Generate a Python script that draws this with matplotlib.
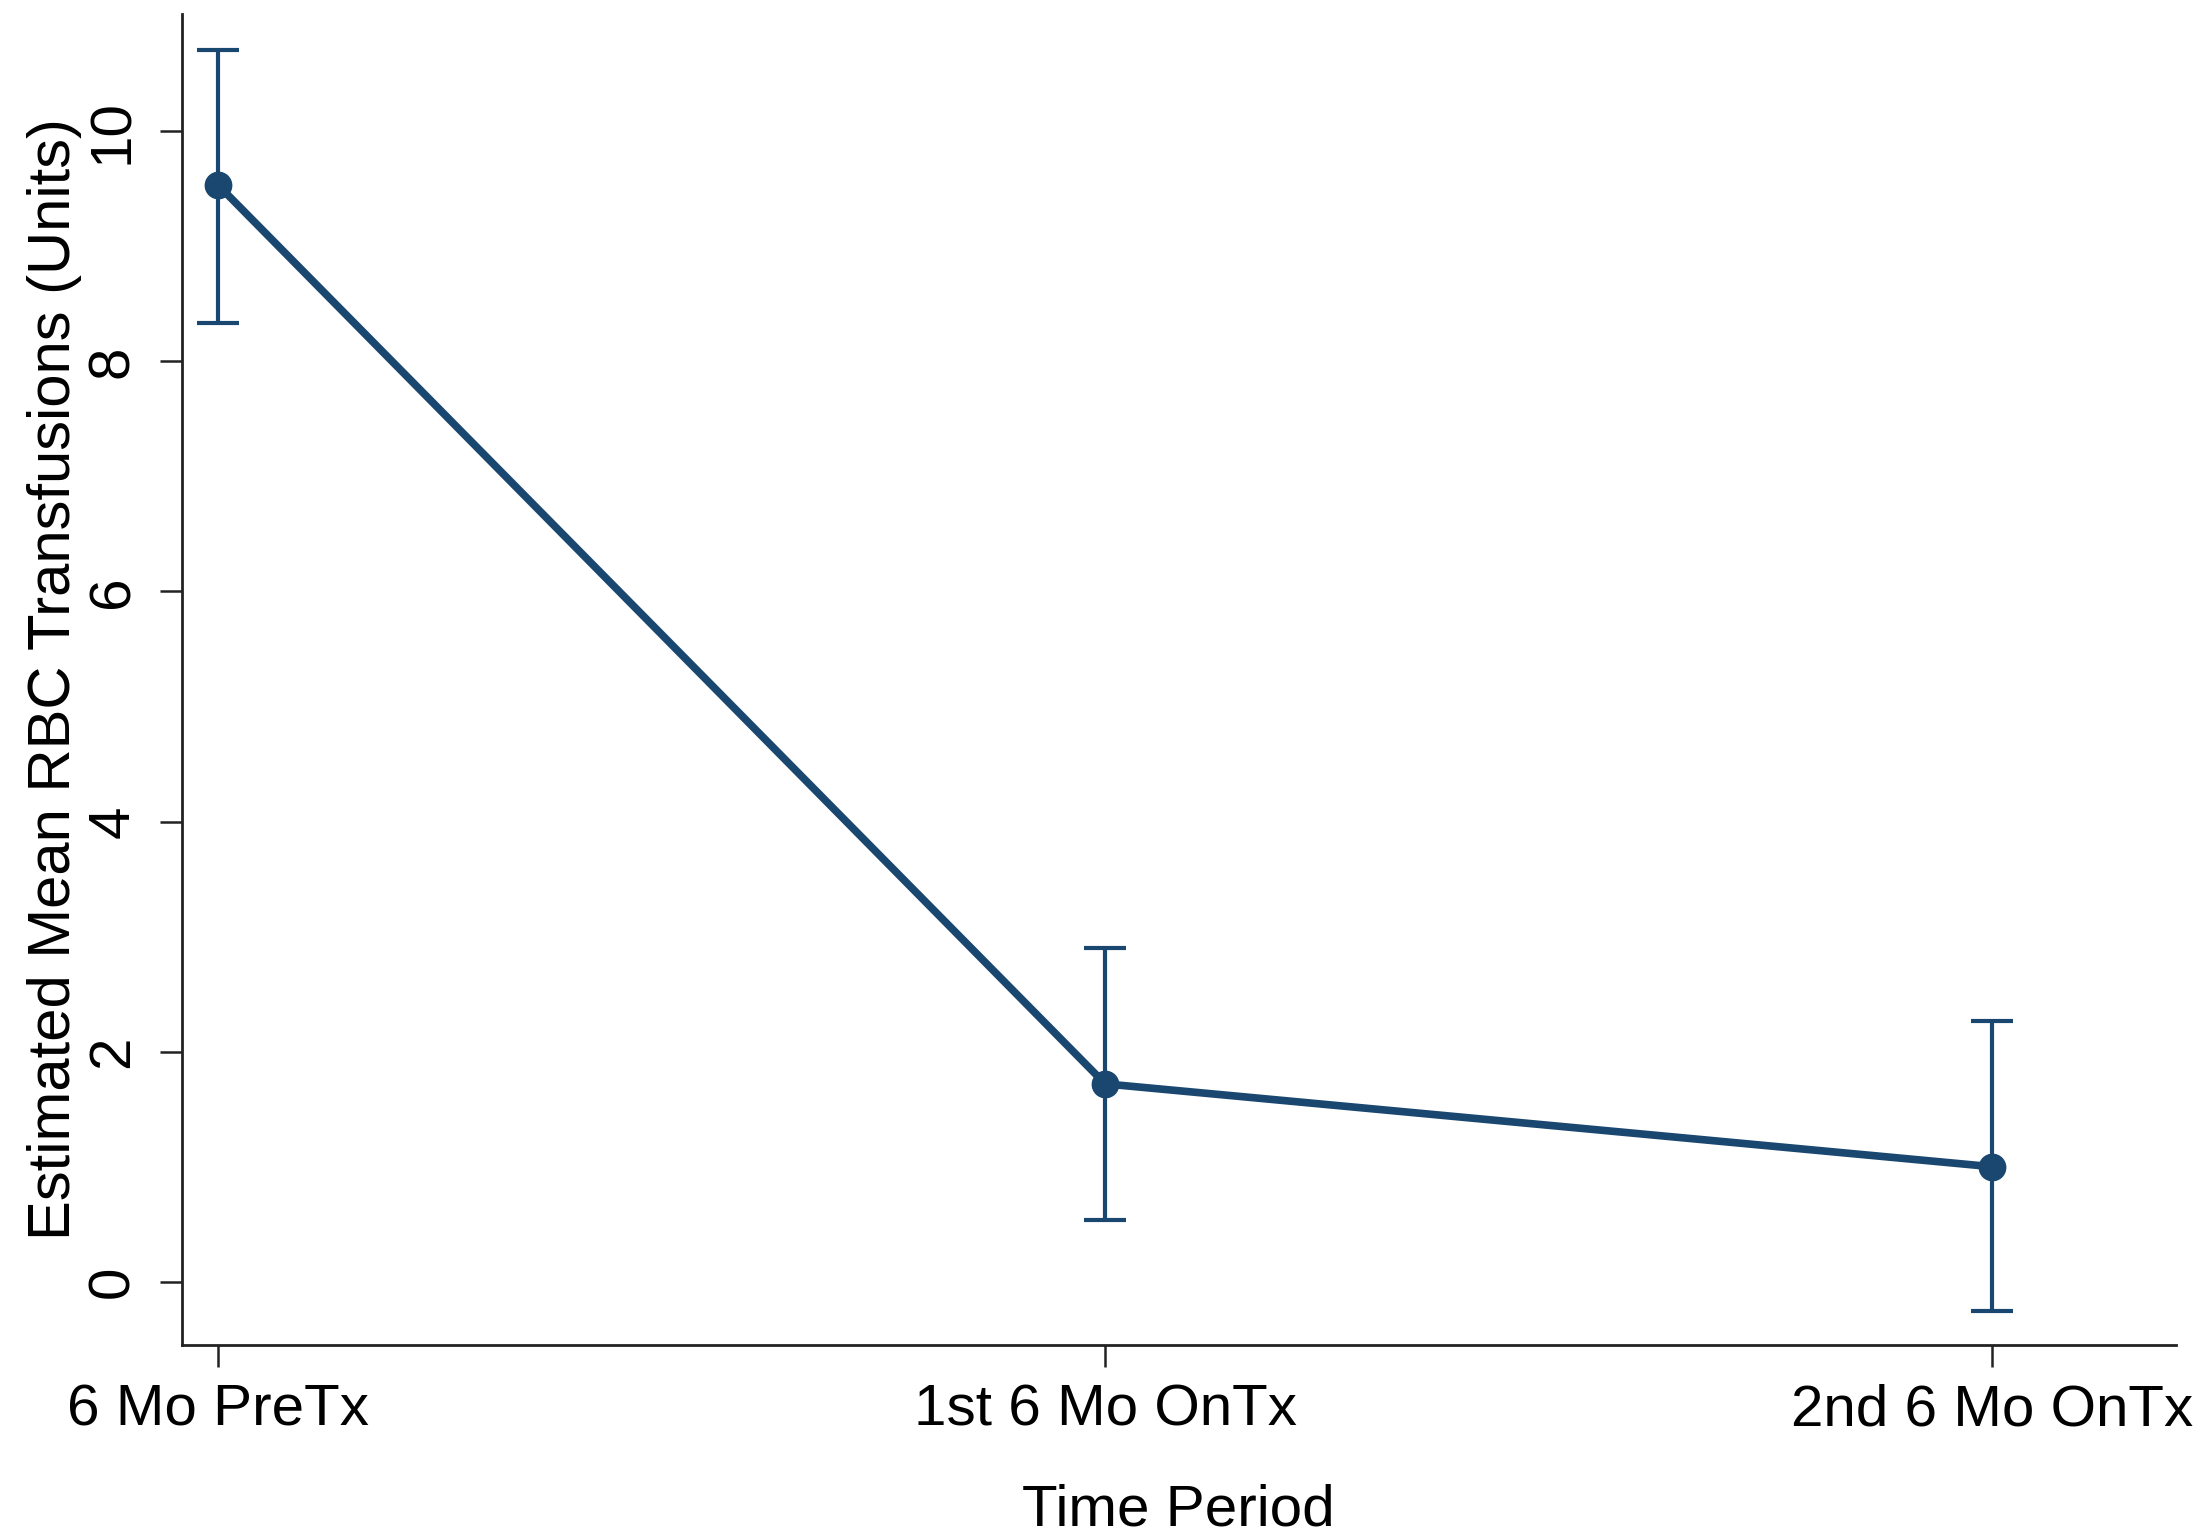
import matplotlib
matplotlib.use("Agg")
import matplotlib.pyplot as plt

plt.rcParams["font.family"] = ["Liberation Sans", "DejaVu Sans"]

periods = ["6 Mo PreTx", "1st 6 Mo OnTx", "2nd 6 Mo OnTx"]
mean_units = [9.53, 1.72, 1.00]
ci_low = [8.33, 0.54, -0.25]
ci_high = [10.71, 2.90, 2.27]

NAVY = "#1a476f"

fig = plt.figure(figsize=(22.11, 15.40), dpi=100)
ax = fig.add_axes([0.0823, 0.1266, 0.9017, 0.8644])

x = list(range(len(periods)))
yerr = [[m - lo for m, lo in zip(mean_units, ci_low)],
        [hi - m for m, hi in zip(mean_units, ci_high)]]
ax.errorbar(x, mean_units, yerr=yerr, fmt="none", ecolor=NAVY,
            elinewidth=3, capsize=15, capthick=3)
ax.plot(x, mean_units, "-o", color=NAVY, lw=5.5, ms=19, zorder=3)

ax.set_xlim(-0.041, 2.207)
ax.set_ylim(-0.55, 11.02)
ax.set_xticks(x)
ax.set_xticklabels(periods)
ax.set_yticks([0, 2, 4, 6, 8, 10])
ax.tick_params(axis="both", labelsize=42, length=16, width=1.8, color="#222222")
ax.tick_params(axis="x", pad=12)
ax.tick_params(axis="y", pad=14)
for lab in ax.get_yticklabels():
    lab.set_rotation(90)
    lab.set_va("center")

for side in ("top", "right"):
    ax.spines[side].set_visible(False)
for side in ("left", "bottom"):
    ax.spines[side].set_linewidth(2)
    ax.spines[side].set_color("#222222")

ax.set_xlabel("Time Period", fontsize=42, labelpad=33)
ax.set_ylabel("Estimated Mean RBC Transfusions (Units)", fontsize=43, labelpad=3)

fig.savefig("out.png", dpi=100)
